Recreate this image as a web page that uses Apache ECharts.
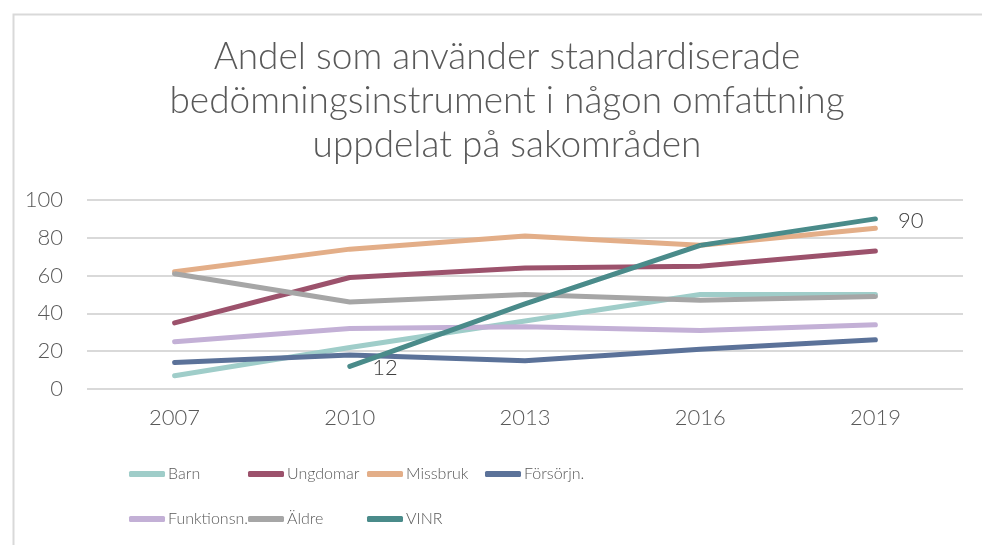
<!DOCTYPE html>
<html>
<head>
<meta charset="utf-8">
<script src="https://cdn.jsdelivr.net/npm/echarts@6/dist/echarts.min.js"></script>
<style>
  html, body { margin: 0; padding: 0; background: #fff; }
  #chart { width: 982px; height: 545px; }
</style>
</head>
<body>
<div id="chart"></div>
<script>
  // årtal
  var years = ['2007', '2010', '2013', '2016', '2019']

  var barn = [7, 22, 36, 50, 50]
  var ungdomar = [35, 59, 64, 65, 73]
  var missbruk = [62, 74, 81, 76, 85]
  var forsorjn = [14, 18, 15, 21, 26]
  var funktionsn = [25, 32, 33, 31, 34]
  var aldre = [61, 46, 50, 47, 49]
  var vinr = [null, 12, 45, 76, 90]

  var yTicks = [0, 20, 40, 60, 80, 100]

  var names = ['Barn', 'Ungdomar', 'Missbruk', 'Försörjn.', 'Funktionsn.', 'Äldre', 'VINR']
  var colors = ['#9fcdc9', '#9c526c', '#e3ae88', '#5b7299', '#c3b0d6', '#a6a6a6', '#4a8b8a']

  var font = 'Lato'
  var textColor = '#595959'

  function lineSeries(name, data, color) {
    return {
      name: name,
      type: 'line',
      data: data,
      symbol: 'circle',
      symbolSize: 1,
      showSymbol: true,
      lineStyle: { width: 5, color: color, cap: 'round', join: 'round' },
      itemStyle: { color: color }
    }
  }

  // VINR har etiketter på första och sista punkten
  var vinrData = vinr.map(function (v, i) {
    if (i === 1 || i === vinr.length - 1) {
      return {
        value: v,
        label: {
          show: true,
          position: 'right',
          distance: 22,
          offset: [0, 2],
          color: '#404040',
          fontSize: 22,
          fontFamily: font,
          fontWeight: 300
        }
      }
    }
    return v
  })

  // en legend per post så att de hamnar i kolumner som i originalet
  var legendPos = [
    [129, 466], [248, 466], [367, 466], [485, 466],
    [129, 511], [248, 511], [367, 511]
  ]
  var legends = names.map(function (n, i) {
    return {
      left: legendPos[i][0],
      top: legendPos[i][1],
      padding: 0,
      itemWidth: 36,
      itemHeight: 6,
      icon: 'roundRect',
      itemStyle: { color: colors[i], opacity: 1 },
      textStyle: {
        color: textColor,
        fontSize: 16,
        fontFamily: font,
        fontWeight: 300,
        padding: [0, 0, 0, -2]
      },
      data: [n]
    }
  })

  var chart = echarts.init(document.getElementById('chart'))
  var option = {
    backgroundColor: '#fff',
    animation: false,
    title: {
      text: 'Andel som använder standardiserade\nbedömningsinstrument i någon omfattning\nuppdelat på sakområden',
      left: 502,
      top: 30,
      textAlign: 'center',
      textStyle: {
        color: textColor,
        fontSize: 37,
        lineHeight: 44,
        fontWeight: 300,
        fontFamily: font
      }
    },
    graphic: [
      {
        type: 'rect',
        left: 11,
        top: 12,
        shape: { width: 1000, height: 600 },
        style: { fill: 'none', stroke: '#d9d9d9', lineWidth: 2 },
        silent: true
      }
    ],
    legend: legends,
    grid: {
      left: 87,
      right: 19,
      top: 200,
      bottom: 156
    },
    xAxis: {
      type: 'category',
      data: years,
      boundaryGap: true,
      axisLine: { show: false },
      axisTick: { show: false },
      axisLabel: {
        color: textColor,
        fontSize: 22,
        fontFamily: font,
        fontWeight: 300,
        margin: 18
      }
    },
    yAxis: {
      type: 'value',
      min: yTicks[0],
      max: yTicks[yTicks.length - 1],
      interval: 20,
      axisLine: { show: false },
      axisTick: { show: false },
      splitLine: { lineStyle: { color: '#d9d9d9', width: 2 } },
      axisLabel: {
        color: textColor,
        fontSize: 22,
        fontFamily: font,
        fontWeight: 300,
        margin: 24
      }
    },
    series: names.map(function (n, i) {
      var data = [barn, ungdomar, missbruk, forsorjn, funktionsn, aldre, vinrData][i]
      return lineSeries(n, data, colors[i])
    })
  }
  chart.setOption(option)
</script>
</body>
</html>
